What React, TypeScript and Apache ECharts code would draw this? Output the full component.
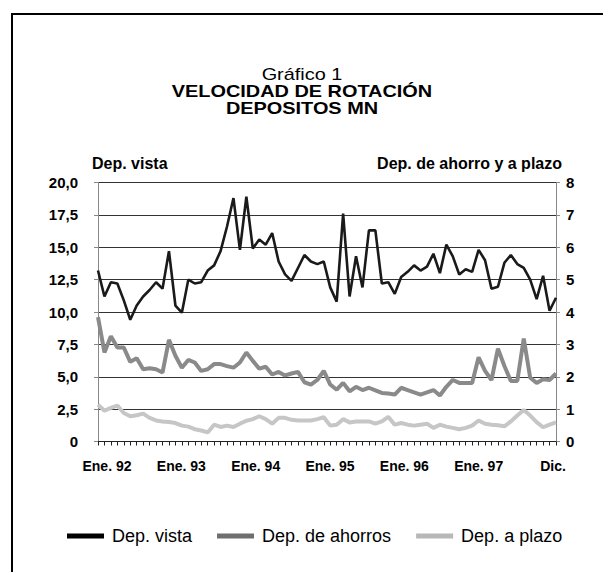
import React, { useEffect, useRef } from "react";
import * as echarts from "echarts";

const months: string[] = [];
const monthNames = ["Ene", "Feb", "Mar", "Abr", "May", "Jun", "Jul", "Ago", "Sep", "Oct", "Nov", "Dic"];
for (let y = 92; y <= 97; y++) for (const m of monthNames) months.push(`${m}. ${y}`);

const xTickLabels = ["Ene. 92", "Ene. 93", "Ene. 94", "Ene. 95", "Ene. 96", "Ene. 97", "Dic."];
const leftTickLabels = ["0", "2,5", "5,0", "7,5", "10,0", "12,5", "15,0", "17,5", "20,0"];
const rightTickLabels = ["0", "1", "2", "3", "4", "5", "6", "7", "8"];

const depVista = [
  13.2, 11.2, 12.3, 12.2, 10.9, 9.4, 10.5, 11.2, 11.7, 12.3, 11.8, 14.7,
  10.5, 9.95, 12.5, 12.2, 12.3, 13.2, 13.6, 14.7, 16.6, 18.8, 14.8, 18.9,
  14.9, 15.6, 15.2, 16.1, 13.9, 12.9, 12.4, 13.4, 14.4, 13.9, 13.7, 13.9,
  11.9, 10.8, 17.6, 11.2, 14.3, 11.9, 16.3, 16.3, 12.2, 12.3, 11.4, 12.7,
  13.1, 13.6, 13.2, 13.5, 14.5, 13.0, 15.2, 14.3, 12.9, 13.3, 13.1, 14.8,
  14.0, 11.8, 11.95, 13.8, 14.4, 13.7, 13.4, 12.5, 11.0, 12.8, 10.1, 11.1,
];

const depAhorros = [
  3.84, 2.75, 3.25, 2.9, 2.9, 2.46, 2.57, 2.23, 2.26, 2.23, 2.13, 3.14,
  2.65, 2.28, 2.52, 2.44, 2.18, 2.23, 2.39, 2.39, 2.33, 2.28, 2.44, 2.75,
  2.49, 2.25, 2.31, 2.07, 2.15, 2.04, 2.1, 2.15, 1.83, 1.76, 1.9, 2.18,
  1.76, 1.6, 1.81, 1.55, 1.69, 1.59, 1.66, 1.58, 1.5, 1.48, 1.45, 1.66,
  1.59, 1.52, 1.45, 1.52, 1.59, 1.42, 1.69, 1.9, 1.81, 1.81, 1.81, 2.6,
  2.18, 1.9, 2.87, 2.33, 1.87, 1.87, 3.18, 1.97, 1.81, 1.92, 1.9, 2.1,
];

const depPlazo = [
  1.14, 0.95, 1.04, 1.11, 0.88, 0.78, 0.81, 0.86, 0.73, 0.65, 0.62, 0.6,
  0.57, 0.49, 0.46, 0.38, 0.34, 0.28, 0.52, 0.45, 0.49, 0.45, 0.55, 0.64,
  0.69, 0.78, 0.69, 0.55, 0.73, 0.73, 0.67, 0.65, 0.65, 0.65, 0.69, 0.75,
  0.49, 0.52, 0.69, 0.59, 0.62, 0.62, 0.62, 0.55, 0.62, 0.76, 0.52, 0.57,
  0.52, 0.49, 0.52, 0.55, 0.42, 0.52, 0.46, 0.42, 0.38, 0.42, 0.49, 0.65,
  0.55, 0.52, 0.5, 0.47, 0.62, 0.8, 0.97, 0.8, 0.6, 0.44, 0.52, 0.59,
];

const titleLines = ["Gráfico 1", "VELOCIDAD DE ROTACIÓN", "DEPOSITOS MN"];

const FONT = "'Liberation Sans', Arial, sans-serif";

export default function App() {
  const ref = useRef<HTMLDivElement>(null);
  useEffect(() => {
    if (!ref.current) return;
    const chart = echarts.init(ref.current, undefined, { renderer: "svg" });
    const titleText = (text: string, y: number, bold: boolean) => ({
      type: "text",
      x: 302,
      y,
      scaleX: 1.17,
      silent: true,
      style: {
        text,
        align: "center",
        verticalAlign: "middle",
        textAlign: "center",
        textVerticalAlign: "middle",
        font: `${bold ? "bold " : ""}17px ${FONT}`,
        fill: "#000",
      },
    });
    chart.setOption({
      animation: false,
      backgroundColor: "#fff",
      textStyle: { fontFamily: FONT },
      graphic: [
        {
          type: "rect",
          shape: { x: 12, y: 14, width: 700, height: 700 },
          style: { fill: "none", stroke: "#000", lineWidth: 2 },
          silent: true,
        },
        titleText(titleLines[0], 74, false),
        titleText(titleLines[1], 91, true),
        titleText(titleLines[2], 108, true),
        {
          type: "text",
          left: 92,
          top: 155,
          style: { text: "Dep. vista", font: `bold 16px ${FONT}`, fill: "#000" },
        },
        {
          type: "text",
          right: 41,
          top: 155,
          style: { text: "Dep. de ahorro y a plazo", font: `bold 16px ${FONT}`, fill: "#000" },
        },
      ],
      legend: {
        top: 522,
        left: 62,
        icon: "rect",
        itemWidth: 37,
        itemHeight: 5,
        itemGap: 25,
        textStyle: { fontFamily: FONT, fontSize: 18, color: "#000", padding: [0, 0, 0, 3] },
        data: ["Dep. vista", "Dep. de ahorros", "Dep. a plazo"],
      },
      grid: [
        { left: 98, right: 47, top: 182.5, bottom: 130.5, containLabel: false },
        { left: 107, right: 50, top: 182.5, bottom: 130.5, containLabel: false },
      ],
      xAxis: [
        {
          type: "category",
          gridIndex: 0,
          data: months,
          boundaryGap: false,
          axisLine: { lineStyle: { color: "#222", width: 1 } },
          axisTick: { show: true, interval: 0, length: 4, lineStyle: { color: "#222" } },
          axisLabel: { show: false },
        },
        {
          type: "category",
          gridIndex: 1,
          data: xTickLabels,
          boundaryGap: false,
          axisLine: { show: false },
          axisTick: { show: false },
          axisLabel: {
            show: true,
            interval: 0,
            margin: 17,
            fontFamily: FONT,
            fontSize: 14,
            fontWeight: "bold",
            color: "#000",
          },
        },
      ],
      yAxis: [
        {
          type: "value",
          gridIndex: 0,
          min: 0,
          max: 20,
          interval: 2.5,
          axisLine: { show: true, lineStyle: { color: "#888" } },
          axisTick: { show: true, length: 4, lineStyle: { color: "#888" } },
          splitLine: { show: true, lineStyle: { color: "#333", width: 1 } },
          axisLabel: {
            margin: 20,
            fontFamily: FONT,
            fontSize: 15,
            fontWeight: "bold",
            color: "#000",
            formatter: (v: number) => leftTickLabels[Math.round(v / 2.5)] ?? "",
          },
        },
        {
          type: "value",
          gridIndex: 0,
          position: "right",
          min: 0,
          max: 8,
          interval: 1,
          axisLine: { show: true, lineStyle: { color: "#888" } },
          axisTick: { show: true, length: 4, lineStyle: { color: "#888" } },
          splitLine: { show: false },
          axisLabel: {
            margin: 10,
            fontFamily: FONT,
            fontSize: 15,
            fontWeight: "bold",
            color: "#000",
            formatter: (v: number) => rightTickLabels[Math.round(v)] ?? "",
          },
        },
        {
          type: "value",
          gridIndex: 1,
          show: false,
        },
      ],
      series: [
        {
          name: "Dep. vista",
          type: "line",
          xAxisIndex: 0,
          yAxisIndex: 0,
          data: depVista,
          showSymbol: false,
          symbol: "none",
          lineStyle: { color: "#1a1a1a", width: 2.6 },
          itemStyle: { color: "#000" },
          z: 5,
        },
        {
          name: "Dep. de ahorros",
          type: "line",
          xAxisIndex: 0,
          yAxisIndex: 1,
          data: depAhorros,
          showSymbol: false,
          symbol: "none",
          lineStyle: { color: "#8a8a8a", width: 4 },
          itemStyle: { color: "#6e6e6e" },
          z: 4,
        },
        {
          name: "Dep. a plazo",
          type: "line",
          xAxisIndex: 0,
          yAxisIndex: 1,
          data: depPlazo,
          showSymbol: false,
          symbol: "none",
          lineStyle: { color: "#c6c6c6", width: 4 },
          itemStyle: { color: "#b8b8b8" },
          z: 3,
        },
      ],
    });
    return () => chart.dispose();
  }, []);
  return (
    <div
      ref={ref}
      style={{ position: "fixed", left: 0, top: 0, width: 603, height: 572, background: "#fff" }}
    />
  );
}
